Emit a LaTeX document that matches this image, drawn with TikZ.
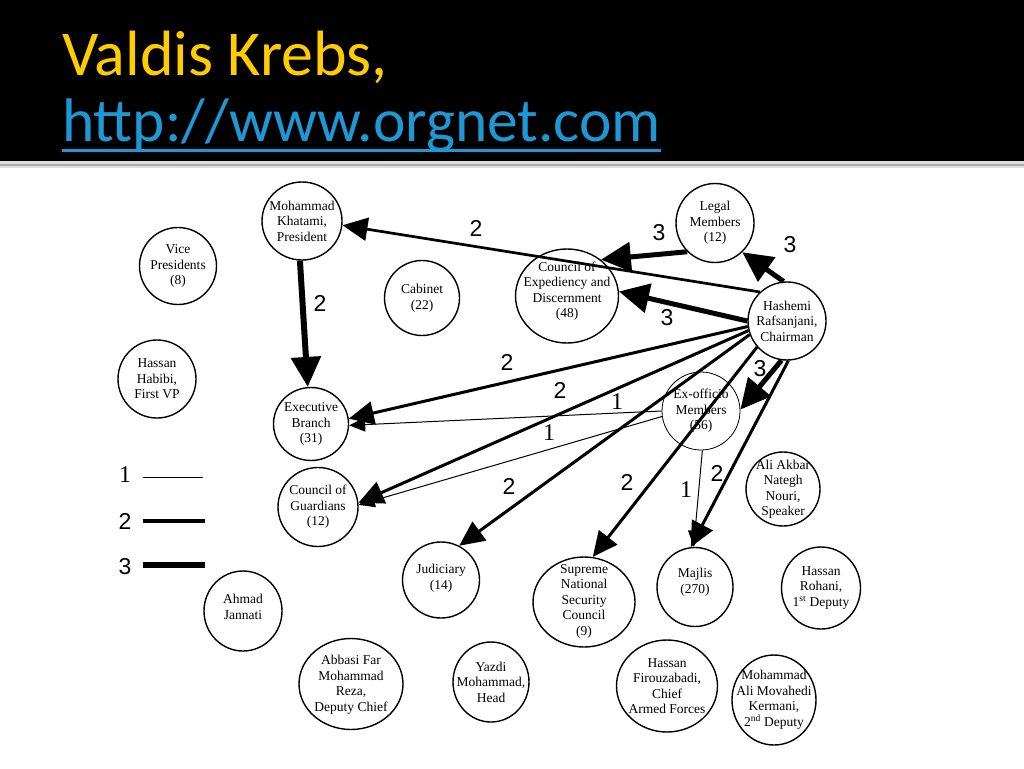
\documentclass[tikz,border=0pt]{standalone}
\usepackage{fontspec}
\setmainfont{Liberation Serif}
\newfontfamily\titlefont{Carlito}
\newfontfamily\numsans{Liberation Sans}
\usetikzlibrary{arrows.meta,shapes.geometric}
\definecolor{titleyellow}{RGB}{255,204,0}
\definecolor{linkblue}{RGB}{30,152,212}
\begin{document}
\begin{tikzpicture}[x=1pt,y=-1pt,
  ent/.style={draw, ellipse, line width=1.4pt, inner sep=0pt},
  thinent/.style={ent, line width=0.8pt},
  lbl/.style={align=center, font=\fontsize{13.5}{15.5}\selectfont, inner sep=0pt},
  wone/.style={line width=1pt, -{Triangle[length=16pt,width=14pt]}},
  wtwo/.style={line width=3pt, -{Triangle[length=25pt,width=23pt]}},
  wthree/.style={line width=5pt, -{Triangle[length=30pt,width=29pt]}},
  numlbl/.style={font=\numsans\fontsize{23}{23}\selectfont, inner sep=0pt},
  onelbl/.style={font=\fontsize{24}{24}\selectfont, inner sep=0pt},
  titletext/.style={anchor=base west, inner sep=0pt, font=\titlefont}
]
\useasboundingbox (0,0) rectangle (1024,768);
\fill[white] (0,0) rectangle (1024,768);
% title band
\fill[black] (0,0) rectangle (1024,161);
\fill[gray!25] (0,161) rectangle (1024,168);
\draw[gray!65, line width=1.6pt] (0,165) -- (1024,165);
\node[titletext, text=titleyellow, font=\titlefont\fontsize{64}{64}\selectfont] (t1) at (62,75) {Valdis Krebs,};
\node[titletext, text=linkblue, font=\titlefont\fontsize{61.5}{61.5}\selectfont] (t2) at (62,141) {http://www.orgnet.com};
\draw[linkblue, line width=3pt] ([yshift=-9pt]t2.base west) -- ([yshift=-9pt]t2.base east);

% entities
\node[ent, minimum width=80pt, minimum height=78pt] (khat) at (302,221) {};
\node[lbl] (khatT) at (khat) {Mohammad\\Khatami,\\President};
\node[ent, minimum width=77pt, minimum height=77pt] (vice) at (178,266) {};
\node[lbl] (viceT) at (vice) {Vice\\Presidents\\(8)};
\node[ent, minimum width=78pt, minimum height=78pt] (habibi) at (157,379) {};
\node[lbl] (habibiT) at (habibi) {Hassan\\Habibi,\\First VP};
\node[ent, minimum width=75pt, minimum height=75pt] (cabinet) at (422,298) {};
\node[lbl] (cabinetT) at (cabinet) {Cabinet\\(22)};
\node[ent, minimum width=75pt, minimum height=73pt] (exec) at (311,424) {};
\node[lbl] (execT) at (exec) {Executive\\Branch\\(31)};
\node[ent, minimum width=80pt, minimum height=79pt] (cog) at (318,507) {};
\node[lbl] (cogT) at (cog) {Council of\\Guardians\\(12)};
\node[ent, minimum width=103pt, minimum height=94pt] (coe) at (567,296) {};
\node[lbl] (coeT) at (567,291) {Council of\\Expediency and\\Discernment\\(48)};
\node[ent, minimum width=78pt, minimum height=79pt] (legal) at (715,223) {};
\node[lbl] (legalT) at (legal) {Legal\\Members\\(12)};
\node[ent, minimum width=78pt, minimum height=78pt] (hashemi) at (787,321) {};
\node[lbl] (hashemiT) at (hashemi) {Hashemi\\Rafsanjani,\\Chairman};
\node[thinent, minimum width=78pt, minimum height=78pt] (exoff) at (701,411) {};
\node[lbl] (exoffT) at (exoff) {Ex-officio\\Members\\(56)};
\node[ent, minimum width=74pt, minimum height=74pt] (ali) at (783,489) {};
\node[lbl] (aliT) at (ali) {Ali Akbar\\Nategh\\Nouri,\\Speaker};
\node[ent, minimum width=77pt, minimum height=76pt] (jud) at (441,580) {};
\node[lbl] (judT) at (441,578) {Judiciary\\(14)};
\node[ent, minimum width=102pt, minimum height=90pt] (snsc) at (584,602) {};
\node[lbl] (snscT) at (584,601) {Supreme\\National\\Security\\Council\\(9)};
\node[ent, minimum width=76pt, minimum height=79pt] (majlis) at (695,587) {};
\node[lbl] (majlisT) at (695,582) {Majlis\\(270)};
\node[ent, minimum width=79pt, minimum height=82pt] (rohani) at (821,588) {};
\node[lbl] (rohaniT) at (rohani) {Hassan\\Rohani,\\1\textsuperscript{st} Deputy};
\node[ent, minimum width=78pt, minimum height=80pt] (jannati) at (243,611) {};
\node[lbl] (jannatiT) at (243,607) {Ahmad\\Jannati};
\node[ent, minimum width=104pt, minimum height=91pt] (abbasi) at (351,684) {};
\node[lbl] (abbasiT) at (351,685) {Abbasi Far\\Mohammad\\Reza,\\Deputy Chief};
\node[ent, minimum width=76pt, minimum height=80pt] (yazdi) at (491,682) {};
\node[lbl] (yazdiT) at (yazdi) {Yazdi\\Mohammad,\\Head};
\node[ent, minimum width=101pt, minimum height=92pt] (firouz) at (667,686) {};
\node[lbl] (firouzT) at (firouz) {Hassan\\Firouzabadi,\\Chief\\Armed Forces};
\node[ent, minimum width=84pt, minimum height=90pt] (movahedi) at (774,700) {};
\node[lbl] (movahediT) at (774,700) {Mohammad\\Ali Movahedi\\Kermani,\\2\textsuperscript{nd} Deputy};

% connectors
\draw[wtwo, line width=2.7pt] (hashemi.133) -- (khat.-6);
\draw[wthree, line width=6pt] (khat.267) -- (exec.95);
\draw[wthree] (legal.226) -- (coe.47);
\draw[wthree] (hashemi.95) -- (legal.-47);
\draw[wthree] (hashemi.180) -- (coe.5);
\draw[wtwo] (hashemi.188) -- (exec.8);
\draw[wtwo] (hashemi.194) -- (cog.6);
\draw[wone] (exoff.180) -- (exec.-2);
\draw[wone] (exoff.188) -- (cog.3);
\draw[wtwo] (hashemi.200) -- (jud.62);
\draw[wtwo] (hashemi.221) -- (snsc.79);
\draw[wthree] (hashemi.262) -- (exoff.2);
\draw[wone] (exoff.-88) -- (majlis.92);
\draw[wtwo] (hashemi.272) -- (majlis.96);

% connector weights
\node[numlbl] (l1) at (476,228) {2};
\node[numlbl] (l2) at (320,303) {2};
\node[numlbl] (l3) at (659,233) {3};
\node[numlbl] (l4) at (790,245) {3};
\node[numlbl] (l5) at (667,318) {3};
\node[numlbl] (l6) at (507,362) {2};
\node[numlbl] (l7) at (560,390) {2};
\node[onelbl] (l8) at (617,402) {1};
\node[onelbl] (l9) at (549,433) {1};
\node[numlbl] (l10) at (509,486) {2};
\node[numlbl] (l11) at (627,482) {2};
\node[numlbl] (l12) at (760,369) {3};
\node[onelbl] (l13) at (686,490) {1};
\node[numlbl] (l14) at (717,473) {2};

% legend
\node[onelbl] (g1) at (125,475) {1};
\node[numlbl] (g2) at (125,521) {2};
\node[numlbl] (g3) at (125,567) {3};
\draw[line width=1pt] (143,477) -- (203,477);
\draw[line width=3.5pt] (143,521) -- (205,521);
\draw[line width=6pt] (143,565) -- (205,565);
\end{tikzpicture}
\end{document}
